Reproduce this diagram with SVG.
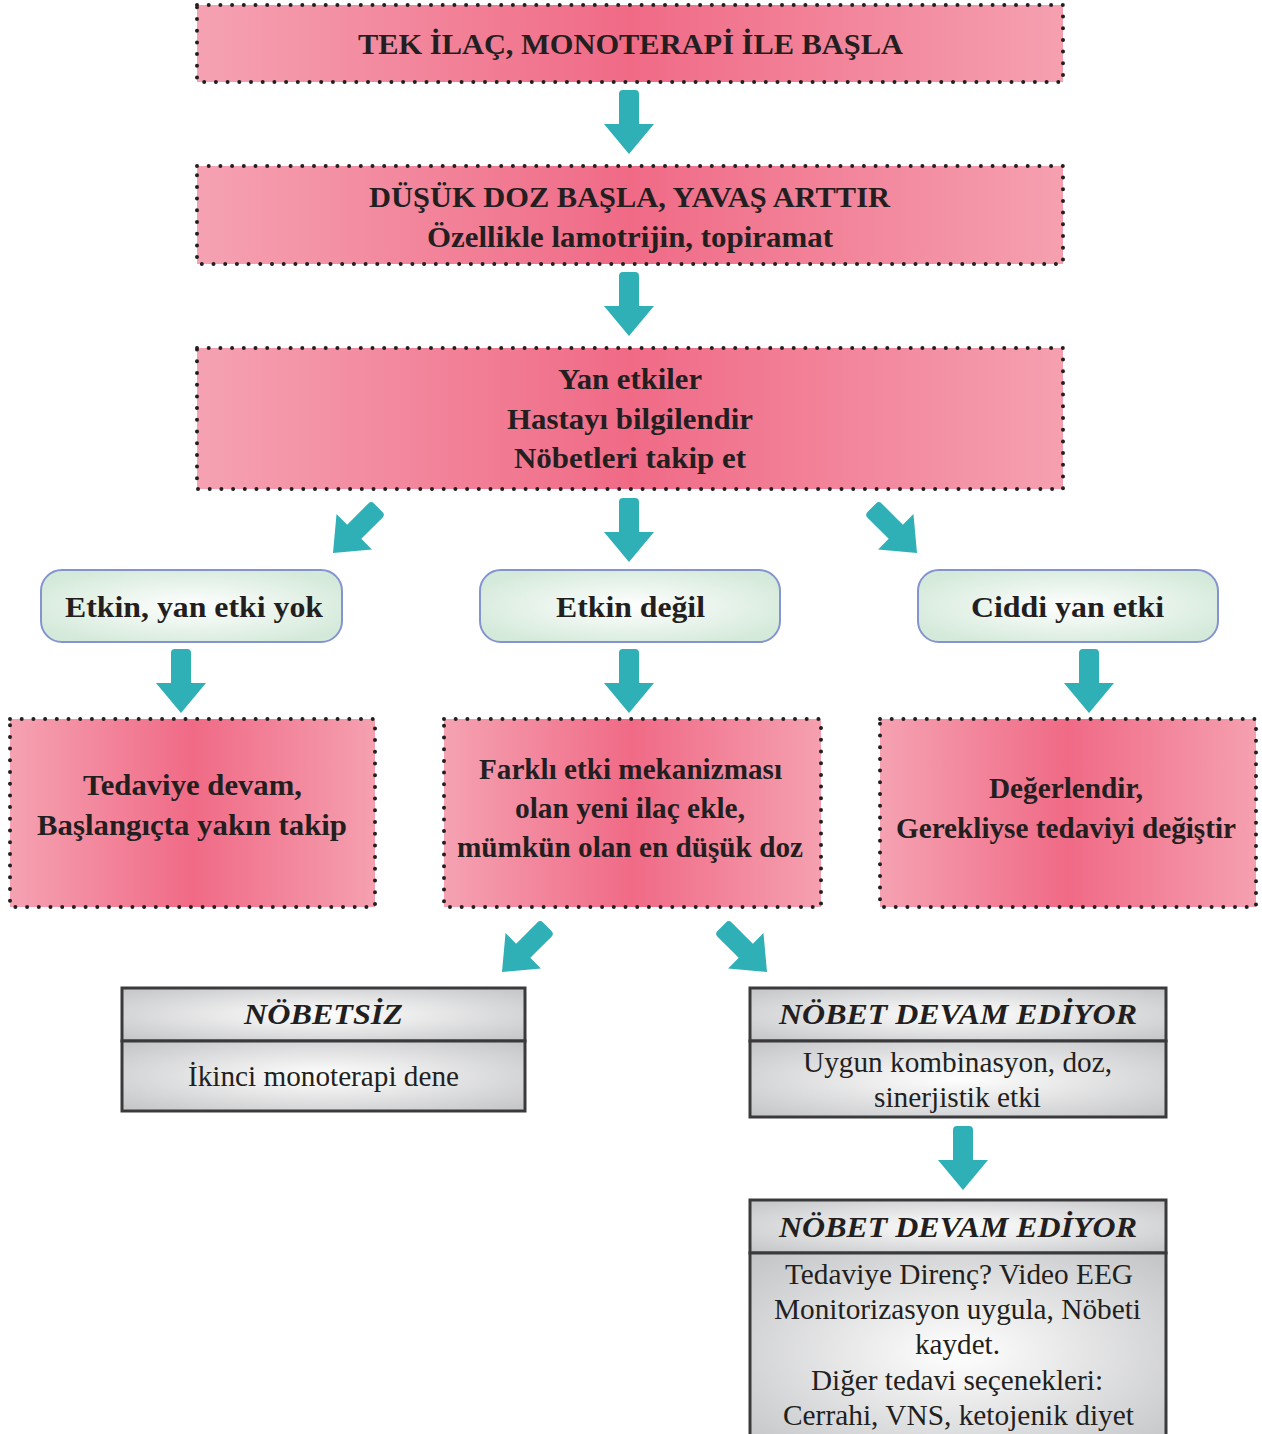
<svg xmlns="http://www.w3.org/2000/svg" xmlns:xlink="http://www.w3.org/1999/xlink" width="1262" height="1434" viewBox="0 0 1262 1434">
  <defs>
    <linearGradient id="pinkFill" x1="0" y1="0" x2="1" y2="0">
      <stop offset="0" stop-color="#f5a2b2"/>
      <stop offset="0.5" stop-color="#f06a86"/>
      <stop offset="1" stop-color="#f5a0b0"/>
    </linearGradient>
    <radialGradient id="greenFill" cx="0.5" cy="0.5" r="0.6">
      <stop offset="0" stop-color="#ffffff"/>
      <stop offset="1" stop-color="#d3e9d9"/>
    </radialGradient>
    <radialGradient id="grayFill" cx="0.5" cy="0.5" r="0.7">
      <stop offset="0" stop-color="#ffffff"/>
      <stop offset="1" stop-color="#c3c4c6"/>
    </radialGradient>
    <!-- block arrow, tip at origin pointing down -->
    <path id="arrow" d="M-10,-60 Q-10,-64 -6,-64 H6 Q10,-64 10,-60 V-30 H25 L0,0 L-25,-30 H-10 Z"/>
    <style>
      .pink { fill: url(#pinkFill); stroke: #231f20; stroke-width: 4; stroke-linecap: round; stroke-dasharray: 0 11.7; }
      .green { fill: url(#greenFill); stroke: #8593cf; stroke-width: 2; }
      .gray { fill: url(#grayFill); stroke: #3a3a3c; stroke-width: 3; }
      .arr { fill: #2eb0b6; }
      text { font-family: "Liberation Serif", "Times New Roman", serif; fill: #231f20; text-anchor: middle; }
      .b { font-weight: bold; font-size: 29px; }
      .g { font-weight: bold; font-size: 30px; }
      .h { font-weight: bold; font-style: italic; font-size: 30px; }
      .r { font-size: 29px; }
    </style>
  </defs>

  <g id="connectors">
    <use href="#arrow" class="arr" transform="translate(629,154)"/>
    <use href="#arrow" class="arr" transform="translate(629,336)"/>
    <use href="#arrow" class="arr" transform="translate(333,553) rotate(45)"/>
    <use href="#arrow" class="arr" transform="translate(629,562)"/>
    <use href="#arrow" class="arr" transform="translate(917,553) rotate(-45)"/>
    <use href="#arrow" class="arr" transform="translate(181,713)"/>
    <use href="#arrow" class="arr" transform="translate(629,713)"/>
    <use href="#arrow" class="arr" transform="translate(1089,713)"/>
    <use href="#arrow" class="arr" transform="translate(502,972) rotate(45)"/>
    <use href="#arrow" class="arr" transform="translate(767,972) rotate(-45)"/>
    <use href="#arrow" class="arr" transform="translate(963,1190)"/>
  </g>

  <g id="start">
    <rect class="pink" x="197" y="5" width="866" height="77"/>
    <text class="b" x="630.5" y="54" textLength="545" lengthAdjust="spacingAndGlyphs">TEK İLAÇ, MONOTERAPİ İLE BAŞLA</text>
  </g>

  <g id="titrate">
    <rect class="pink" x="197" y="166" width="866" height="98"/>
    <text class="b" x="629.5" y="207" textLength="521" lengthAdjust="spacingAndGlyphs">DÜŞÜK DOZ BAŞLA, YAVAŞ ARTTIR</text>
    <text class="b" x="630" y="247" textLength="406" lengthAdjust="spacingAndGlyphs">Özellikle lamotrijin, topiramat</text>
  </g>

  <g id="monitor">
    <rect class="pink" x="197" y="348" width="866" height="141"/>
    <text class="b" x="630" y="389" textLength="144" lengthAdjust="spacingAndGlyphs">Yan etkiler</text>
    <text class="b" x="630" y="429" textLength="246" lengthAdjust="spacingAndGlyphs">Hastayı bilgilendir</text>
    <text class="b" x="630" y="468" textLength="232" lengthAdjust="spacingAndGlyphs">Nöbetleri takip et</text>
  </g>

  <g id="effective">
    <rect class="green" x="41" y="570" width="301" height="72" rx="21"/>
    <text class="g" x="194" y="617" textLength="258" lengthAdjust="spacingAndGlyphs">Etkin, yan etki yok</text>
  </g>

  <g id="not-effective">
    <rect class="green" x="480" y="570" width="300" height="72" rx="21"/>
    <text class="g" x="630.5" y="617" textLength="149" lengthAdjust="spacingAndGlyphs">Etkin değil</text>
  </g>

  <g id="side-effect">
    <rect class="green" x="918" y="570" width="300" height="72" rx="21"/>
    <text class="g" x="1067.5" y="617" textLength="193" lengthAdjust="spacingAndGlyphs">Ciddi yan etki</text>
  </g>

  <g id="continue">
    <rect class="pink" x="10" y="719" width="365" height="188"/>
    <text class="b" x="192.5" y="795" textLength="219" lengthAdjust="spacingAndGlyphs">Tedaviye devam,</text>
    <text class="b" x="192" y="835" textLength="310" lengthAdjust="spacingAndGlyphs">Başlangıçta yakın takip</text>
  </g>

  <g id="add-drug">
    <rect class="pink" x="444" y="719" width="377" height="188"/>
    <text class="b" x="630.5" y="779" textLength="303" lengthAdjust="spacingAndGlyphs">Farklı etki mekanizması</text>
    <text class="b" x="630" y="818" textLength="230" lengthAdjust="spacingAndGlyphs">olan yeni ilaç ekle,</text>
    <text class="b" x="630" y="857" textLength="346" lengthAdjust="spacingAndGlyphs">mümkün olan en düşük doz</text>
  </g>

  <g id="reassess">
    <rect class="pink" x="880" y="719" width="376" height="188"/>
    <text class="b" x="1066" y="798" textLength="154" lengthAdjust="spacingAndGlyphs">Değerlendir,</text>
    <text class="b" x="1066" y="838" textLength="340" lengthAdjust="spacingAndGlyphs">Gerekliyse tedaviyi değiştir</text>
  </g>

  <g id="seizure-free">
    <rect class="gray" x="122" y="988" width="403" height="53"/>
    <rect class="gray" x="122" y="1041" width="403" height="70"/>
    <text class="h" x="323.5" y="1024" textLength="159" lengthAdjust="spacingAndGlyphs">NÖBETSİZ</text>
    <text class="r" x="323.5" y="1086" textLength="271" lengthAdjust="spacingAndGlyphs">İkinci monoterapi dene</text>
  </g>

  <g id="ongoing">
    <rect class="gray" x="750" y="988" width="416" height="53"/>
    <rect class="gray" x="750" y="1041" width="416" height="76"/>
    <text class="h" x="958" y="1024" textLength="358" lengthAdjust="spacingAndGlyphs">NÖBET DEVAM EDİYOR</text>
    <text class="r" x="957.5" y="1072" textLength="309" lengthAdjust="spacingAndGlyphs">Uygun kombinasyon, doz,</text>
    <text class="r" x="957.5" y="1107" textLength="167" lengthAdjust="spacingAndGlyphs">sinerjistik etki</text>
  </g>

  <g id="refractory">
    <rect class="gray" x="750" y="1200" width="416" height="53"/>
    <rect class="gray" x="750" y="1253" width="416" height="200"/>
    <text class="h" x="958" y="1237" textLength="358" lengthAdjust="spacingAndGlyphs">NÖBET DEVAM EDİYOR</text>
    <text class="r" x="959" y="1284" textLength="348" lengthAdjust="spacingAndGlyphs">Tedaviye Direnç? Video EEG</text>
    <text class="r" x="957.5" y="1319" textLength="367" lengthAdjust="spacingAndGlyphs">Monitorizasyon uygula, Nöbeti</text>
    <text class="r" x="957.5" y="1354" textLength="85" lengthAdjust="spacingAndGlyphs">kaydet.</text>
    <text class="r" x="957" y="1390" textLength="292" lengthAdjust="spacingAndGlyphs">Diğer tedavi seçenekleri:</text>
    <text class="r" x="958.5" y="1425" textLength="351" lengthAdjust="spacingAndGlyphs">Cerrahi, VNS, ketojenik diyet</text>
  </g>
</svg>
